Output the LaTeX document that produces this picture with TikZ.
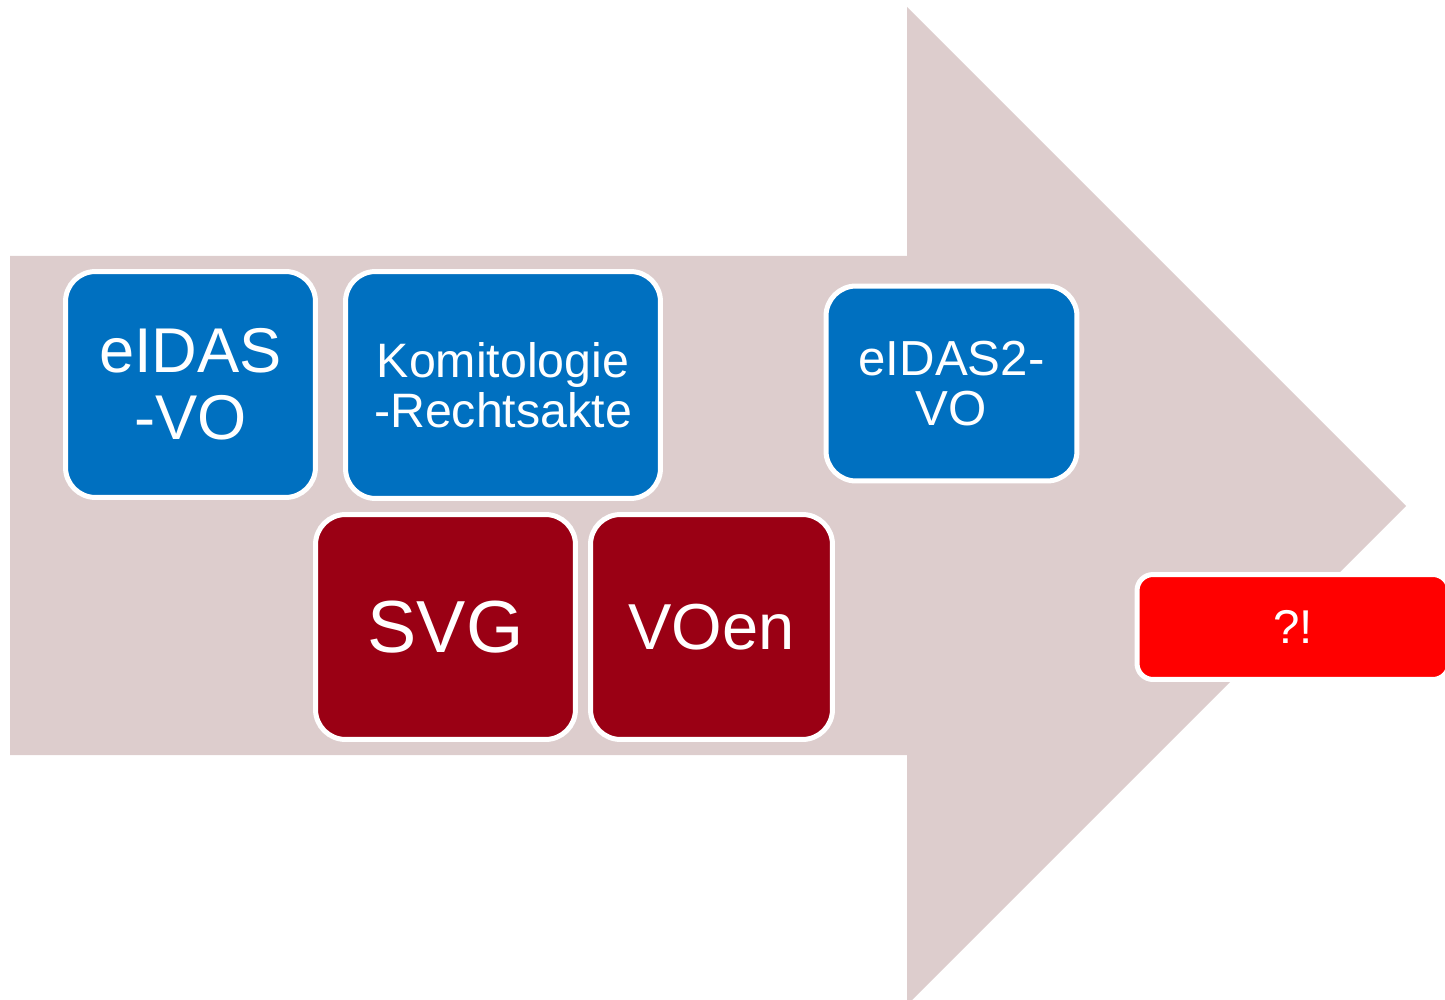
\documentclass[tikz,border=0pt]{standalone}
\usepackage{fontspec}
\setmainfont{Liberation Sans}
\usetikzlibrary{positioning}

\definecolor{arrowbg}{HTML}{DDCDCD}
\definecolor{lawblue}{HTML}{0070C0}
\definecolor{lawred}{HTML}{9A0014}
\definecolor{alertred}{HTML}{FF0000}

\begin{document}
\begin{tikzpicture}[
    x=0.02cm, y=-0.02cm,
    box/.style={draw=white, line width=2.85pt, rounded corners=0.6cm, inner sep=0pt, align=center, text=white},
    bluebox/.style={box, fill=lawblue},
    redbox/.style={box, fill=lawred},
    alertbox/.style={box, fill=alertred, rounded corners=0.32cm},
]
\useasboundingbox (0,0) rectangle (1445,1000);

% ============ big background arrow ============
\fill[arrowbg] (10,256) -- (907,256) -- (907,7) -- (1406,506) -- (907,1005) -- (907,755) -- (10,755) -- cycle;

% ============ upper row: EU acts ============
\node[bluebox, minimum width=5cm, minimum height=4.52cm, font=\fontsize{36}{38}\selectfont] (eidas) at (190.5, 384.5) {eIDAS\\-VO};
\node[bluebox, minimum width=6.3cm, minimum height=4.54cm, font=\fontsize{27.5}{28.5}\selectfont] (komit) at (503, 385) {Komitologie\\-Rechtsakte};
\node[bluebox, minimum width=5.02cm, minimum height=3.9cm, font=\fontsize{28}{28.5}\selectfont] (eidas2) at (951.5, 383.5) {eIDAS2-\\VO};

% ============ lower row: national acts ============
\node[redbox, minimum width=5.2cm, minimum height=4.5cm, font=\fontsize{42}{44}\selectfont] (svg) at (445.5, 627) {SVG};
\node[redbox, minimum width=4.84cm, minimum height=4.5cm, font=\fontsize{37}{39}\selectfont] (voen) at (711.5, 627) {VOen};

\node[alertbox, minimum width=6.24cm, minimum height=2.1cm, font=\fontsize{27}{28}\selectfont] (open) at (1293, 627) {?!};

\end{tikzpicture}
\end{document}
